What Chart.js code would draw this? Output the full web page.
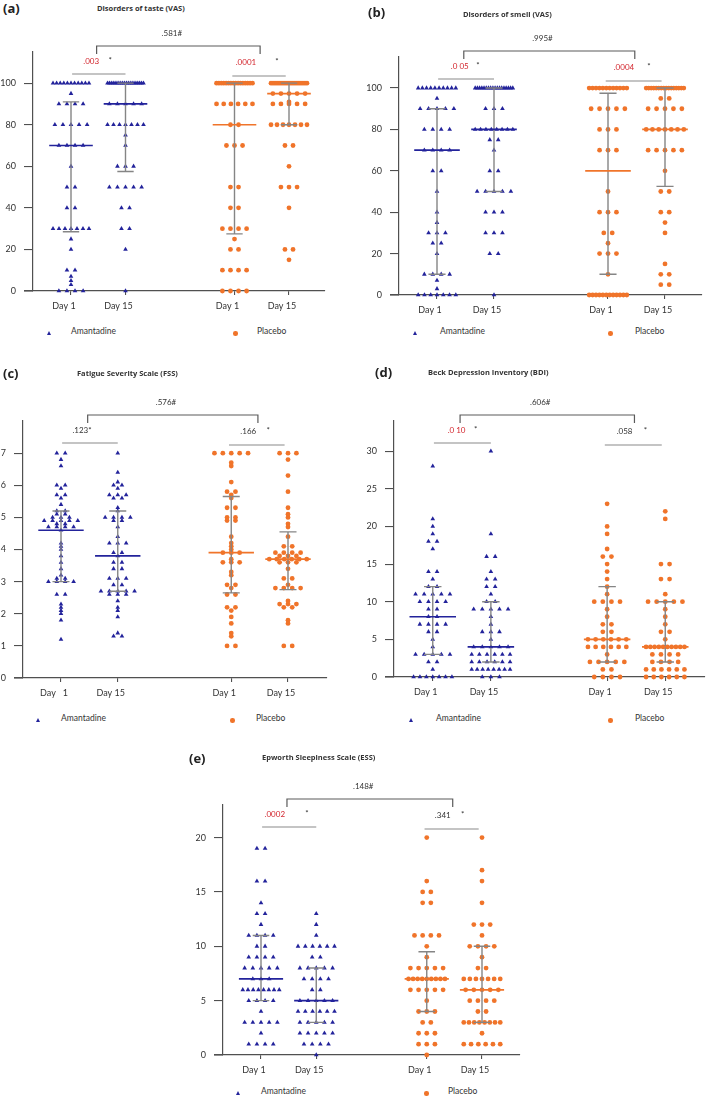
<!DOCTYPE html>
<html><head><meta charset="utf-8">
<script src="https://cdn.jsdelivr.net/npm/chart.js@4.4.1/dist/chart.umd.min.js"></script>
<style>
html,body{margin:0;padding:0;background:#fff;}
#page{position:relative;width:709px;height:1097px;overflow:hidden;background:#fff;}
#page canvas{position:absolute;}
.lbl{position:absolute;font:bold 13px 'Open Sans',Arial,sans-serif;color:#222;line-height:1;white-space:nowrap;}
.ttl{position:absolute;font:bold 7.5px 'Open Sans',sans-serif;color:#333;line-height:1;white-space:nowrap;}
.leg{position:absolute;font:8.5px Lato,sans-serif;color:#333;line-height:1;white-space:nowrap;}
.tri{position:absolute;width:0;height:0;border-left:2.5px solid transparent;border-right:2.5px solid transparent;border-bottom:4px solid #23239b;}
.dot{position:absolute;width:4.5px;height:4.5px;border-radius:50%;background:#f0742a;}
</style></head>
<body>
<div id="page"></div>
<script>
// ---------- DATA ----------
const groupNames = ['Amantadine', 'Placebo'];
const categoryLabels = ['Day 1', 'Day 15', 'Day 1', 'Day 15'];
const categoryLabelsFSS = ['Day   1', 'Day 15', 'Day 1', 'Day 15'];

// (a) Disorders of taste (VAS)
const tasteTicks = [0, 20, 40, 60, 80, 100];
const tasteAmantadineDay1 = [100,100,100,100,100,100,100,100,100,100,100,95,90,90,90,90,80,80,80,80,80,70,70,70,70,60,50,50,40,40,30,30,30,30,30,30,30,25,20,10,10,7,5,3,0,0,0,0];
const tasteAmantadineDay15 = [100,100,100,100,100,100,100,100,100,100,100,100,100,100,100,100,100,100,100,100,90,90,90,90,90,80,80,80,80,80,80,80,75,70,60,60,60,50,50,50,50,50,40,40,30,30,20,0];
const tastePlaceboDay1 = [100,100,100,100,100,100,100,100,100,100,100,100,100,100,100,100,90,90,90,90,90,90,80,80,70,70,70,50,50,40,40,30,30,30,30,25,20,20,10,10,10,10,0,0,0,0];
const tastePlaceboDay15 = [100,100,100,100,100,100,100,100,100,100,100,100,100,100,100,100,100,100,100,95,95,95,95,95,91,90,90,90,90,90,80,80,80,80,80,80,80,70,70,60,50,50,50,40,20,20,15];
const tasteMedian = [70, 90, 80, 95];
const tasteLower = [28.5, 57.5, 27.5, 80];
const tasteUpper = [91, 100, 100, 100];
const tasteP = ['.581#', '.003', '.0001'];
const tasteRed = [false, true, true];

// (b) Disorders of smell (VAS)
const smellTicks = [0, 20, 40, 60, 80, 100];
const smellAmantadineDay1 = [100,100,100,100,100,100,100,100,100,100,95,90,90,90,90,90,80,80,80,80,70,70,70,70,60,60,50,40,35,30,30,30,25,25,20,10,10,10,10,7,3,0,0,0,0,0,0,0];
const smellAmantadineDay15 = [100,100,100,100,100,100,100,100,100,100,100,100,100,100,100,100,100,100,90,90,90,80,80,80,80,80,80,80,80,75,75,70,60,60,50,50,50,50,50,40,40,40,30,30,30,20,20,0];
const smellPlaceboDay1 = [100,100,100,100,100,100,100,100,100,100,100,100,90,90,90,90,90,80,80,80,70,70,70,50,40,40,40,30,30,25,20,20,20,10,0,0,0,0,0,0,0,0,0,0,0,0];
const smellPlaceboDay15 = [100,100,100,100,100,100,100,100,100,100,100,100,100,100,100,100,95,95,90,90,90,90,90,80,80,80,80,80,80,80,70,70,70,70,70,60,50,50,40,40,35,30,15,10,10,5,5];
const smellMedian = [70, 80, 60, 80];
const smellLower = [10, 50, 10, 52.5];
const smellUpper = [90, 100, 97.5, 100];
const smellP = ['.995#', '.0 05', '.0004'];
const smellRed = [false, true, true];

// (c) Fatigue Severity Scale (FSS)
const fssTicks = [0, 1, 2, 3, 4, 5, 6, 7];
const fssAmantadineDay1 = [7.0,7.0,6.8,6.6,6.0,6.0,5.9,5.7,5.7,5.6,5.4,5.2,5.2,5.1,5.1,5.0,5.0,5.0,4.9,4.9,4.9,4.9,4.9,4.8,4.8,4.7,4.7,4.7,4.7,4.6,4.2,4.1,4.0,3.8,3.6,3.4,3.2,3.1,3.1,3.0,3.0,3.0,3.0,2.6,2.6,2.3,2.2,2.1,2.0,1.8,1.2];
const fssAmantadineDay15 = [7.0,6.4,6.1,6.0,6.0,5.9,5.7,5.7,5.7,5.6,5.6,5.3,5.2,5.0,5.0,5.0,5.0,4.9,4.9,4.7,4.4,4.2,4.2,4.2,3.9,3.9,3.8,3.6,3.6,3.4,3.4,3.1,3.1,3.1,2.9,2.9,2.7,2.7,2.7,2.7,2.7,2.6,2.6,2.6,2.4,2.2,2.1,1.9,1.4,1.3,1.3];
const fssPlaceboDay1 = [7.0,7.0,7.0,7.0,7.0,6.7,6.6,6.1,5.8,5.8,5.7,5.6,5.3,5.3,5.0,5.0,4.9,4.9,4.4,4.2,4.1,4.0,3.9,3.9,3.9,3.7,3.6,3.6,3.6,3.3,3.2,2.9,2.9,2.8,2.6,2.6,2.2,2.2,2.1,1.9,1.7,1.4,1.3,1.0,1.0];
const fssPlaceboDay15 = [7.0,7.0,7.0,6.8,6.3,5.8,5.3,5.1,5.0,4.8,4.7,4.4,4.1,4.1,3.9,3.9,3.9,3.9,3.8,3.8,3.8,3.7,3.7,3.7,3.7,3.7,3.7,3.6,3.6,3.6,3.4,3.1,3.1,2.9,2.8,2.8,2.8,2.8,2.4,2.3,2.3,2.3,2.2,2.2,1.8,1.7,1.0,1.0];
const fssMedian = [4.6, 3.8, 3.9, 3.7];
const fssLower = [3.0, 2.7, 2.65, 2.75];
const fssUpper = [5.2, 5.2, 5.65, 4.55];
const fssP = ['.576#', '.123*', '.166'];
const fssRed = [false, false, false];

// (d) Beck Depression Inventory (BDI)
const bdiTicks = [0, 5, 10, 15, 20, 25, 30];
const bdiAmantadineDay1 = [28,21,20,19,18,18,17,14,14,13,12,12,11,11,11,11,11,10,10,10,10,9,9,8,8,7,7,7,7,6,6,5,4,3,3,3,3,3,2,2,1,0,0,0,0,0,0,0];
const bdiAmantadineDay15 = [30,19,16,16,14,13,13,12,12,11,10,10,9,9,9,9,9,8,7,6,6,6,5,4,4,4,4,4,3,3,3,3,3,3,2,2,2,2,2,2,1,1,1,1,1,1,1,1,0,0,0];
const bdiPlaceboDay1 = [23,20,19,17,16,16,15,14,13,12,11,10,10,10,10,9,8,7,7,6,6,5,5,5,5,5,5,4,4,4,4,4,4,3,2,2,2,2,2,1,1,0,0,0,0];
const bdiPlaceboDay15 = [22,21,15,15,13,13,11,10,10,10,10,10,9,8,7,6,6,5,4,4,4,4,4,4,4,4,4,4,3,3,3,3,2,2,2,2,1,1,1,1,1,1,0,0,0,0,0,0];
const bdiMedian = [8, 4, 5, 4];
const bdiLower = [3, 2, 2, 2];
const bdiUpper = [12, 10, 12, 10];
const bdiP = ['.606#', '.0 10', '.058'];
const bdiRed = [false, true, false];

// (e) Epworth Sleepiness Scale (ESS)
const essTicks = [0, 5, 10, 15, 20];
const essAmantadineDay1 = [19,19,16,16,14,13,13,12,11,11,11,11,10,10,9,9,9,9,8,8,8,8,8,7,7,7,6,6,6,6,6,6,6,6,5,5,5,5,4,3,3,3,3,3,2,1,1,1,1];
const essAmantadineDay15 = [13,12,11,10,10,10,10,10,10,9,9,8,8,8,8,8,7,7,7,7,6,6,5,5,5,5,5,4,4,4,4,4,4,3,3,3,3,3,2,2,2,2,2,1,1,1,1,0];
const essPlaceboDay1 = [20,16,15,15,14,14,11,11,11,11,10,9,8,8,8,8,8,7,7,7,7,7,7,7,7,7,6,6,6,6,6,5,4,4,4,3,3,2,2,2,1,1,1,0];
const essPlaceboDay15 = [20,17,16,14,12,12,12,11,10,10,10,10,9,8,8,7,7,7,7,7,7,7,6,6,6,6,6,5,5,5,5,4,4,3,3,3,3,3,3,3,3,2,1,1,1,1,1,1];
const essMedian = [7, 5, 7, 6];
const essLower = [5, 3, 4, 3];
const essUpper = [11, 8, 9.5, 10];
const essP = ['.148#', '.0002', '.341'];
const essRed = [false, true, false];

// ---------- STYLE / LAYOUT ----------
const BLUE = '#23239b', ORANGE = '#f0742a', GRAY = '#858585', AXIS = '#505050', TXT = '#333', RED = '#d3262e';
const CAT_X = [1, 2, 4, 5];
const STEP = 0.148, CAP_W = 0.66, MED_HALF = 0.4, CAP_HALF = 0.15;
const YW = 33, XH = 22;

const panels = [
  {key:'(a)', title:'Disorders of taste (VAS)', groups:[tasteAmantadineDay1,tasteAmantadineDay15,tastePlaceboDay1,tastePlaceboDay15],
   ticks:tasteTicks, ymax:115, labels:categoryLabels, median:tasteMedian, lower:tasteLower, upper:tasteUpper, p:tasteP, red:tasteRed,
   canvas:{x:0,y:18,w:350,h:300}, area:{l:33,t:52,r:325,b:291}, c1:71, c5:289,
   tx:{left:1.37, leftStar:1.72, right:4.21, rightStar:4.78},
   lbl:{x:3,y:2}, ttl:{x:97,y:5}, legY:332, leg:[47,71,233,257]},
  {key:'(b)', title:'Disorders of smell (VAS)', groups:[smellAmantadineDay1,smellAmantadineDay15,smellPlaceboDay1,smellPlaceboDay15],
   ticks:smellTicks, ymax:115, labels:categoryLabels, median:smellMedian, lower:smellLower, upper:smellUpper, p:smellP, red:smellRed,
   canvas:{x:355,y:20,w:354,h:300}, area:{l:399,t:57,r:702,b:295}, c1:437, c5:665,
   tx:{left:1.40, leftStar:1.72, right:4.28, rightStar:4.72},
   lbl:{x:368,y:6}, ttl:{x:463,y:11}, legY:332, leg:[413,440,608,635]},
  {key:'(c)', title:'Fatigue Severity Scale (FSS)', groups:[fssAmantadineDay1,fssAmantadineDay15,fssPlaceboDay1,fssPlaceboDay15],
   ticks:fssTicks, ymax:8, labels:categoryLabelsFSS, median:fssMedian, lower:fssLower, upper:fssUpper, p:fssP, red:fssRed,
   canvas:{x:-12,y:380,w:362,h:325}, area:{l:23,t:421,r:327,b:678}, c1:61, c5:288,
   tx:{left:1.37, leftStar:null, right:4.30, rightStar:4.65},
   lbl:{x:3,y:367}, ttl:{x:77,y:370}, legY:719, leg:[36,61,230,256]},
  {key:'(d)', title:'Beck Depression Inventory (BDI)', groups:[bdiAmantadineDay1,bdiAmantadineDay15,bdiPlaceboDay1,bdiPlaceboDay15],
   ticks:bdiTicks, ymax:34, labels:categoryLabels, median:bdiMedian, lower:bdiLower, upper:bdiUpper, p:bdiP, red:bdiRed,
   canvas:{x:355,y:380,w:354,h:325}, area:{l:394,t:421,r:707,b:677}, c1:433, c5:667,
   tx:{left:1.41, leftStar:1.74, right:4.30, rightStar:4.66},
   lbl:{x:375,y:366}, ttl:{x:428,y:369}, legY:719, leg:[409,436,608,635]},
  {key:'(e)', title:'Epworth Sleepiness Scale (ESS)', groups:[essAmantadineDay1,essAmantadineDay15,essPlaceboDay1,essPlaceboDay15],
   ticks:essTicks, ymax:23, labels:categoryLabels, median:essMedian, lower:essLower, upper:essUpper, p:essP, red:essRed,
   canvas:{x:170,y:765,w:370,h:320}, area:{l:223,t:805,r:520,b:1055}, c1:261, c5:482,
   tx:{left:1.25, leftStar:1.83, right:4.29, rightStar:4.65},
   lbl:{x:189,y:752}, ttl:{x:262,y:754}, legY:1092, leg:[236,261,424,448]}
];

function swarm(values, cx) {
  const groups = new Map();
  values.forEach(v => { const k = String(v); if (!groups.has(k)) groups.set(k, []); groups.get(k).push(v); });
  const pts = [];
  groups.forEach(arr => {
    const n = arr.length;
    const s = n > 1 ? Math.min(STEP, CAP_W / (n - 1)) : 0;
    arr.forEach((v, i) => pts.push({x: cx + (i - (n - 1) / 2) * s, y: v}));
  });
  return pts;
}

function makeAnnot(p) {
  return {
    id: 'annot',
    afterDatasetsDraw(chart) {
      const {ctx, scales:{x, y}} = chart;
      ctx.save();
      for (let i = 0; i < 4; i++) {
        const cx = x.getPixelForValue(CAT_X[i]);
        const yl = y.getPixelForValue(p.lower[i]), yh = y.getPixelForValue(p.upper[i]), ym = y.getPixelForValue(p.median[i]);
        const cap = x.getPixelForValue(CAT_X[i] + CAP_HALF) - cx;
        const half = x.getPixelForValue(CAT_X[i] + MED_HALF) - cx;
        ctx.strokeStyle = GRAY; ctx.lineWidth = 1.4;
        ctx.beginPath();
        ctx.moveTo(cx, yl); ctx.lineTo(cx, yh);
        ctx.moveTo(cx - cap, yl); ctx.lineTo(cx + cap, yl);
        ctx.moveTo(cx - cap, yh); ctx.lineTo(cx + cap, yh);
        ctx.stroke();
        ctx.strokeStyle = i < 2 ? BLUE : ORANGE; ctx.lineWidth = 1.7;
        ctx.beginPath(); ctx.moveTo(cx - half, ym); ctx.lineTo(cx + half, ym); ctx.stroke();
      }
      ctx.restore();
    },
    afterDraw(chart) {
      const {ctx, chartArea:a, scales:{x}} = chart;
      const px = v => x.getPixelForValue(v);
      ctx.save();
      // x axis extends left of the y axis
      ctx.strokeStyle = AXIS; ctx.lineWidth = 1.2;
      ctx.beginPath(); ctx.moveTo(a.left - 9, a.bottom); ctx.lineTo(a.left, a.bottom); ctx.stroke();
      // between-group bracket
      ctx.strokeStyle = '#5a5a5a'; ctx.lineWidth = 1.2;
      ctx.beginPath();
      ctx.moveTo(px(1.47), a.top + 2); ctx.lineTo(px(1.47), a.top - 6);
      ctx.lineTo(px(4.47), a.top - 6); ctx.lineTo(px(4.47), a.top + 2);
      ctx.stroke();
      // within-group lines
      ctx.strokeStyle = '#8a8a8a'; ctx.lineWidth = 1.2;
      ctx.beginPath();
      ctx.moveTo(px(1.02), a.top + 22); ctx.lineTo(px(2.0), a.top + 22);
      ctx.moveTo(px(3.96), a.top + 24); ctx.lineTo(px(4.94), a.top + 24);
      ctx.stroke();
      // texts
      ctx.font = '8px Lato, sans-serif';
      ctx.textAlign = 'center'; ctx.textBaseline = 'middle';
      ctx.fillStyle = p.red[0] ? RED : TXT; ctx.fillText(p.p[0], px(2.85), a.top - 19);
      ctx.fillStyle = p.red[1] ? RED : TXT; ctx.fillText(p.p[1], px(p.tx.left), a.top + 9);
      ctx.fillStyle = p.red[2] ? RED : TXT; ctx.fillText(p.p[2], px(p.tx.right), a.top + 10);
      ctx.fillStyle = TXT;
      if (p.tx.leftStar !== null) ctx.fillText('*', px(p.tx.leftStar), a.top + 8);
      ctx.fillText('*', px(p.tx.rightStar), a.top + 9);
      ctx.restore();
    }
  };
}

const page = document.getElementById('page');
panels.forEach(p => {
  const cv = document.createElement('canvas');
  cv.width = p.canvas.w; cv.height = p.canvas.h;
  cv.style.left = p.canvas.x + 'px'; cv.style.top = p.canvas.y + 'px';
  cv.style.width = p.canvas.w + 'px'; cv.style.height = p.canvas.h + 'px';
  page.appendChild(cv);

  const unit = (p.c5 - p.c1) / 4;
  const xmin = 1 - (p.c1 - p.area.l) / unit;
  const xmax = 5 + (p.area.r - p.c5) / unit;
  const pad = {
    left: p.area.l - p.canvas.x - YW,
    top: p.area.t - p.canvas.y,
    right: p.canvas.x + p.canvas.w - p.area.r,
    bottom: p.canvas.y + p.canvas.h - p.area.b - XH
  };
  const datasets = p.groups.map((vals, i) => ({
    label: groupNames[i < 2 ? 0 : 1] + ' ' + p.labels[i],
    data: swarm(vals, CAT_X[i]),
    pointStyle: i < 2 ? 'triangle' : 'circle',
    pointRadius: i < 2 ? 2.7 : 2.4,
    pointBackgroundColor: i < 2 ? BLUE : ORANGE,
    pointBorderWidth: 0,
    showLine: false,
    clip: false
  }));
  new Chart(cv, {
    type: 'scatter',
    data: {datasets},
    options: {
      responsive: false, animation: false, devicePixelRatio: 1,
      layout: {padding: pad},
      plugins: {legend: {display: false}, tooltip: {enabled: false}},
      scales: {
        x: {
          type: 'linear', min: xmin, max: xmax,
          afterBuildTicks: s => { s.ticks = CAT_X.map(v => ({value: v})); },
          afterFit: s => { s.height = XH; },
          grid: {drawOnChartArea: false, drawTicks: true, tickLength: 4, color: AXIS, lineWidth: 1.1},
          border: {color: AXIS, width: 1.2},
          ticks: {padding: 6, labelOffset: -7, color: TXT, font: {family: 'Lato', size: 9},
                  autoSkip: false, maxRotation: 0, callback: (v, i) => p.labels[i]}
        },
        y: {
          type: 'linear', min: 0, max: p.ymax,
          afterBuildTicks: s => { s.ticks = p.ticks.map(v => ({value: v})); },
          afterFit: s => { s.width = YW; },
          grid: {drawOnChartArea: false, drawTicks: true, tickLength: 9, color: AXIS, lineWidth: 1.1},
          border: {color: AXIS, width: 1.2},
          ticks: {padding: 8, color: TXT, font: {family: 'Lato', size: 9}, autoSkip: false, callback: v => String(v)}
        }
      }
    },
    plugins: [makeAnnot(p)]
  });

  const add = (cls, txt, x, y) => { const d = document.createElement('div'); d.className = cls; if (txt) d.textContent = txt; d.style.left = x + 'px'; d.style.top = y + 'px'; page.appendChild(d); };
  add('lbl', p.key, p.lbl.x, p.lbl.y);
  add('ttl', p.title, p.ttl.x, p.ttl.y);
  add('tri', '', p.leg[0], p.legY - 1);
  add('leg', groupNames[0], p.leg[1], p.legY - 5);
  add('dot', '', p.leg[2], p.legY - 1);
  add('leg', groupNames[1], p.leg[3], p.legY - 5);
});
</script>
</body></html>
